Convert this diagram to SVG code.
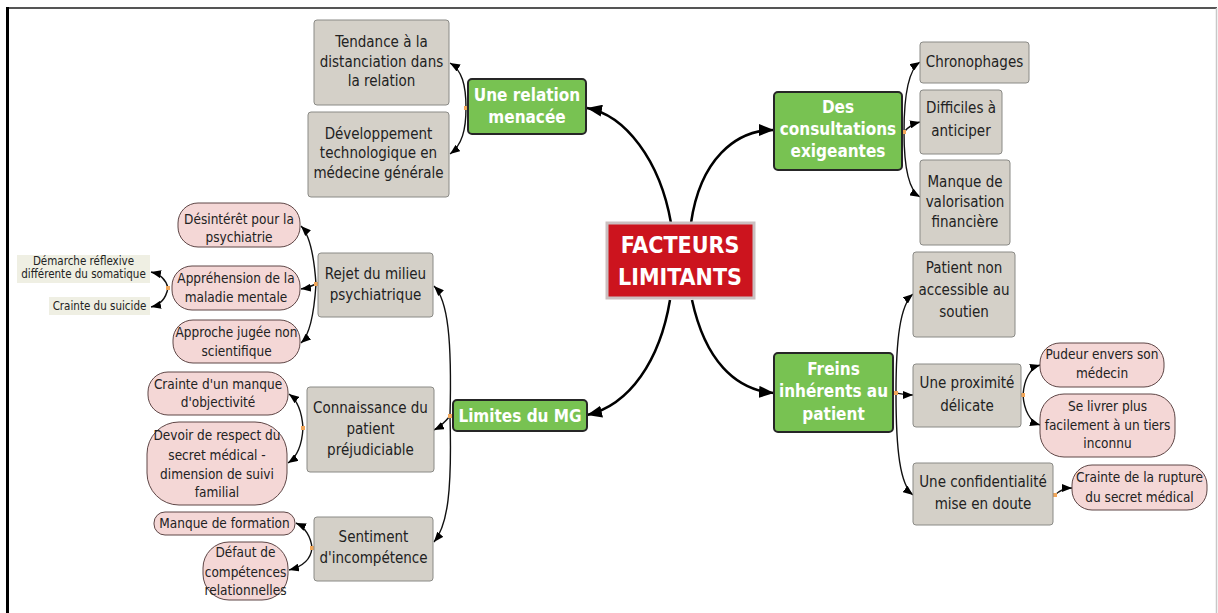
<svg xmlns="http://www.w3.org/2000/svg" width="1218" height="613" viewBox="0 0 1218 613">
<style>
text{font-family:"DejaVu Sans Condensed","DejaVu Sans",sans-serif;font-stretch:condensed;text-anchor:middle;fill:#222}
.g rect{fill:#d4d0c8;stroke:#8a8a86;stroke-width:1}
.g text{font-size:15px}
.v rect{fill:#78c252;stroke:#262626;stroke-width:2}
.v text{font-size:17px;font-weight:bold;fill:#fff}
.p rect{fill:#f4d7d6;stroke:#5e4646;stroke-width:1}
.p text{font-size:13.5px}
.b rect{fill:#efefe3;stroke:none}
.b text{font-size:11.5px}
.main{fill:none;stroke:#000;stroke-width:2.5;marker-end:url(#am)}
.sub{fill:none;stroke:#111;stroke-width:1.4;marker-end:url(#as)}
.dot{fill:#f2a75a}
</style>
<defs>
<marker id="am" markerUnits="userSpaceOnUse" markerWidth="16" markerHeight="12" refX="15" refY="6" orient="auto"><path d="M0,0 L15,6 L0,12 z" fill="#000"/></marker>
<marker id="as" markerUnits="userSpaceOnUse" markerWidth="11" markerHeight="8" refX="10" refY="4" orient="auto"><path d="M0,0 L10,4 L0,8 z" fill="#000"/></marker>
</defs>
<rect width="1218" height="613" fill="#fff"/>
<line x1="7" y1="8" x2="1217" y2="8" stroke="#555" stroke-width="2"/>
<line x1="7.5" y1="7" x2="7.5" y2="613" stroke="#000" stroke-width="3"/>
<line x1="1216.5" y1="8" x2="1216.5" y2="613" stroke="#c8c8c8" stroke-width="1.5"/>

<g id="connectors">
<path class="main" d="M671,223 C660,160 625,115 587,108"/>
<path class="main" d="M691,223 C700,160 735,130 774,130"/>
<path class="main" d="M670,300 C660,360 630,405 587,415"/>
<path class="main" d="M692,300 C705,360 735,390 774,393"/>
<path class="sub" d="M466,108 C466,85 462,70 450,63"/>
<path class="sub" d="M466,108 C466,130 462,145 450,154"/>
<path class="sub" d="M904,132 C904,95 908,70 920,62"/>
<path class="sub" d="M904,132 C908,127 912,124 920,122"/>
<path class="sub" d="M904,132 C904,165 908,190 920,197"/>
<path class="sub" d="M450,416 C452,340 448,300 434,286"/>
<path class="sub" d="M450,416 C445,422 440,427 434,430"/>
<path class="sub" d="M450,416 C452,490 448,525 434,542"/>
<path class="sub" d="M896,393 C896,340 900,305 913,294"/>
<path class="sub" d="M896,393 C902,394 907,395 913,395"/>
<path class="sub" d="M896,393 C896,450 900,485 913,495"/>
<path class="sub" d="M1023,395 C1024,380 1030,368 1040,365"/>
<path class="sub" d="M1023,395 C1024,410 1030,422 1040,425"/>
<path class="sub" d="M1055,495 C1060,490 1065,488 1072,488"/>
<path class="sub" d="M316,284 C314,255 310,235 301,226"/>
<path class="sub" d="M316,284 C312,286 308,288 301,289"/>
<path class="sub" d="M316,284 C314,315 310,335 301,343"/>
<path class="sub" d="M168,288 C166,280 160,274 151,272"/>
<path class="sub" d="M168,288 C166,298 160,305 151,307"/>
<path class="sub" d="M303,428 C302,412 297,400 289,394"/>
<path class="sub" d="M303,428 C302,445 297,457 288,463"/>
<path class="sub" d="M312,548 C311,537 305,527 296,523"/>
<path class="sub" d="M312,548 C311,558 305,566 289,570"/>
<rect class="dot" x="464" y="106" width="4" height="4"/>
<rect class="dot" x="902" y="130" width="4" height="4"/>
<rect class="dot" x="448" y="414" width="4" height="4"/>
<rect class="dot" x="894" y="391" width="4" height="4"/>
<rect class="dot" x="1021" y="393" width="4" height="4"/>
<rect class="dot" x="1053" y="493" width="4" height="4"/>
<rect class="dot" x="314" y="282" width="4" height="4"/>
<rect class="dot" x="166" y="286" width="4" height="4"/>
<rect class="dot" x="301" y="426" width="4" height="4"/>
<rect class="dot" x="310" y="546" width="4" height="4"/>
</g>

<g id="center">
<rect x="607" y="223" width="147" height="75" fill="#cc141e" stroke="#cbbfc0" stroke-width="3"/>
<text x="680" y="253" style="font-size:23px;font-weight:bold;fill:#fff">FACTEURS</text>
<text x="680" y="285" style="font-size:23px;font-weight:bold;fill:#fff">LIMITANTS</text>
</g>

<g id="relation" class="v"><rect x="468" y="79" width="118" height="55" rx="4"/><text x="527" y="101">Une relation</text><text x="527" y="123">menacée</text></g>
<g id="consultations" class="v"><rect x="774" y="92" width="128" height="78" rx="4"/><text x="838" y="113">Des</text><text x="838" y="135">consultations</text><text x="838" y="157">exigeantes</text></g>
<g id="limites" class="v"><rect x="453" y="400" width="134" height="31" rx="4"/><text x="520" y="422">Limites du MG</text></g>
<g id="freins" class="v"><rect x="774" y="353" width="119" height="79" rx="4"/><text x="833.5" y="375">Freins</text><text x="833.5" y="397">inhérents au</text><text x="833.5" y="420">patient</text></g>

<g id="tendance" class="g"><rect x="314" y="20" width="135" height="85" rx="3"/><text x="381.5" y="47">Tendance à la</text><text x="381.5" y="67">distanciation dans</text><text x="381.5" y="86">la relation</text></g>
<g id="developpement" class="g"><rect x="308" y="112" width="141" height="85" rx="3"/><text x="378.5" y="139">Développement</text><text x="378.5" y="158">technologique en</text><text x="378.5" y="178">médecine générale</text></g>
<g id="chronophages" class="g"><rect x="920" y="42" width="109" height="41" rx="3"/><text x="974.5" y="67">Chronophages</text></g>
<g id="difficiles" class="g"><rect x="920" y="90" width="82" height="64" rx="3"/><text x="961" y="113">Difficiles à</text><text x="961" y="136">anticiper</text></g>
<g id="valorisation" class="g"><rect x="920" y="160" width="90" height="85" rx="3"/><text x="965" y="187">Manque de</text><text x="965" y="207">valorisation</text><text x="965" y="227">financière</text></g>
<g id="patient-non" class="g"><rect x="913" y="252" width="102" height="85" rx="3"/><text x="964" y="273">Patient non</text><text x="964" y="295">accessible au</text><text x="964" y="317">soutien</text></g>
<g id="proximite" class="g"><rect x="913" y="364" width="108" height="63" rx="3"/><text x="967" y="388">Une proximité</text><text x="967" y="411">délicate</text></g>
<g id="confidentialite" class="g"><rect x="913" y="463" width="140" height="62" rx="3"/><text x="983" y="487">Une confidentialité</text><text x="983" y="509">mise en doute</text></g>
<g id="rejet" class="g"><rect x="318" y="253" width="115" height="64" rx="3"/><text x="375.5" y="279">Rejet du milieu</text><text x="375.5" y="300">psychiatrique</text></g>
<g id="connaissance" class="g"><rect x="307" y="387" width="127" height="85" rx="3"/><text x="370.5" y="413">Connaissance du</text><text x="370.5" y="434">patient</text><text x="370.5" y="455">préjudiciable</text></g>
<g id="sentiment" class="g"><rect x="314" y="517" width="119" height="64" rx="3"/><text x="373.5" y="542">Sentiment</text><text x="373.5" y="563">d'incompétence</text></g>

<g id="pudeur" class="p"><rect x="1040" y="343" width="124" height="44" rx="20"/><text x="1102" y="359">Pudeur envers son</text><text x="1102" y="378">médecin</text></g>
<g id="se-livrer" class="p"><rect x="1040" y="394" width="135" height="63" rx="24"/><text x="1107.5" y="411">Se livrer plus</text><text x="1107.5" y="430">facilement à un tiers</text><text x="1107.5" y="448">inconnu</text></g>
<g id="rupture" class="p"><rect x="1072" y="465" width="135" height="45" rx="20"/><text x="1139.5" y="482">Crainte de la rupture</text><text x="1139.5" y="502">du secret médical</text></g>
<g id="desinteret" class="p"><rect x="178" y="203" width="122" height="44" rx="20"/><text x="239" y="224">Désintérêt pour la</text><text x="239" y="242">psychiatrie</text></g>
<g id="apprehension" class="p"><rect x="172" y="266" width="128" height="44" rx="20"/><text x="236" y="283">Appréhension de la</text><text x="236" y="302">maladie mentale</text></g>
<g id="approche" class="p"><rect x="173" y="320" width="127" height="43" rx="20"/><text x="236.5" y="337">Approche jugée non</text><text x="236.5" y="356">scientifique</text></g>
<g id="objectivite" class="p"><rect x="148" y="372" width="140" height="43" rx="20"/><text x="218" y="389">Crainte d'un manque</text><text x="218" y="407">d'objectivité</text></g>
<g id="devoir" class="p"><rect x="147" y="422" width="140" height="83" rx="32"/><text x="217" y="440">Devoir de respect du</text><text x="217" y="460">secret médical -</text><text x="217" y="479">dimension de suivi</text><text x="217" y="497">familial</text></g>
<g id="formation" class="p"><rect x="154" y="512" width="141" height="23" rx="11"/><text x="224.5" y="528">Manque de formation</text></g>
<g id="defaut" class="p"><rect x="203" y="542" width="85" height="58" rx="26"/><text x="245.5" y="557">Défaut de</text><text x="245.5" y="577">compétences</text><text x="245.5" y="595">relationnelles</text></g>

<g id="demarche" class="b"><rect x="17" y="255" width="133" height="28"/><text x="83.5" y="265">Démarche réflexive</text><text x="83.5" y="278">différente du somatique</text></g>
<g id="suicide" class="b"><rect x="49" y="297" width="101" height="18"/><text x="99.5" y="310">Crainte du suicide</text></g>
</svg>
